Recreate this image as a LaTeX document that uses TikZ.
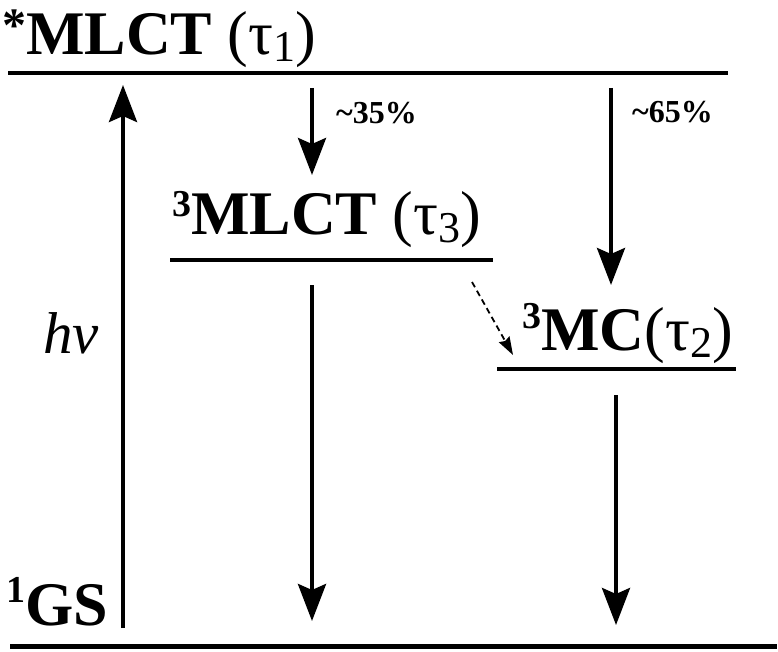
\documentclass[tikz,border=0pt]{standalone}
\usepackage{fontspec}
\setmainfont{Liberation Serif}
\usetikzlibrary{arrows.meta}
\newcommand\upnum[2]{\raisebox{#1pt}{\fontsize{38}{38}\selectfont\bfseries #2}}
\newcommand\upstar{\raisebox{13pt}{\fontsize{48}{48}\selectfont\bfseries *}}
\newcommand\taulab[1]{{\mdseries(τ\raisebox{-7pt}{\fontsize{44}{44}\selectfont #1})}}
\begin{document}
\begin{tikzpicture}[x=1pt,y=-1pt,
  level/.style={line width=4pt},
  trans/.style={line width=4pt,-{Stealth[length=37pt,width=28pt,inset=6pt]}},
  weak/.style={line width=1.8pt,dash pattern=on 6pt off 4pt,-{Stealth[length=18pt,width=12pt,inset=2pt]}},
  big/.style={inner sep=0pt,anchor=base west,font=\fontsize{62}{62}\selectfont\bfseries},
  pct/.style={inner sep=0pt,anchor=base west,font=\fontsize{32}{32}\selectfont\bfseries},
  hvlab/.style={inner sep=0pt,anchor=base west,font=\fontsize{59}{59}\selectfont\itshape}]
\useasboundingbox (0,0) rectangle (778,652);
% levels
\coordinate (s1l) at (8,73);   \coordinate (s1r) at (728,73);
\coordinate (t3l) at (170,260); \coordinate (t3r) at (493,260);
\coordinate (mcl) at (497,369); \coordinate (mcr) at (736,369);
\coordinate (gsl) at (10,646);  \coordinate (gsr) at (777,646);
\draw[level] (s1l) -- (s1r);
\draw[level] (t3l) -- (t3r);
\draw[level] (mcl) -- (mcr);
\draw[level,line width=5pt] (gsl) -- (gsr);
% labels
\node[big] (lab1) at (2,55) {\upstar MLCT \taulab{1}};
\node[big] (lab3) at (172,235) {\upnum{18}{3}MLCT \taulab{3}};
\node[big] (labmc) at (522,350) {\upnum{22}{3}MC\taulab{2}};
\node[big] (labgs) at (6,625) {\upnum{23}{1}GS};
\node[hvlab] (hv) at (43,353) {hv};
\node[pct] (p35) at (336,124) {\textasciitilde35\%};
\node[pct] (p65) at (632,123) {\textasciitilde65\%};
% transitions
\coordinate (a0) at (123,628); \coordinate (a1) at (123,85);
\coordinate (b0) at (312,88);  \coordinate (b1) at (312,175);
\coordinate (c0) at (611,88);  \coordinate (c1) at (611,285);
\coordinate (d0) at (312,285); \coordinate (d1) at (312,621);
\coordinate (e0) at (616,395); \coordinate (e1) at (616,625);
\coordinate (f0) at (472,282); \coordinate (f1) at (513,355);
\draw[trans] (a0) -- (a1);
\draw[trans] (b0) -- (b1);
\draw[trans] (c0) -- (c1);
\draw[trans] (d0) -- (d1);
\draw[trans] (e0) -- (e1);
\draw[weak] (f0) -- (f1);
\end{tikzpicture}
\end{document}
